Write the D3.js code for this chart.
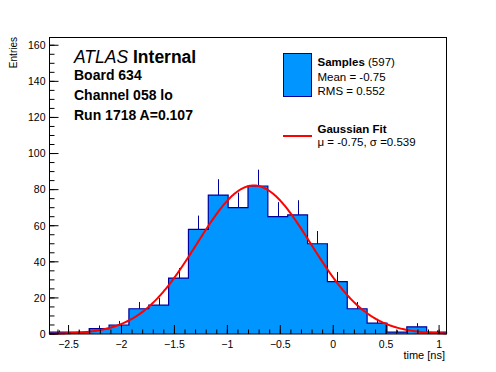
<!DOCTYPE html>
<html><head><meta charset="utf-8">
<script src="https://cdn.jsdelivr.net/npm/d3@7"></script>
<style>
html,body{margin:0;padding:0;background:#fff;}
svg{display:block;font-family:"Liberation Sans",Arial,Helvetica,sans-serif;}
</style></head>
<body>
<svg id="c" width="496" height="372"></svg>
<script>
// ---- data ----
const binRange = [-2.68, 1.07];           // histogram x range, 20 equal bins
const counts = [1, 1, 3, 5, 14, 16, 31, 58, 77, 70, 82, 65, 66, 50, 29, 14, 6, 1, 4, 1];
const xTicks = [-2.5, -2, -1.5, -1, -0.5, 0, 0.5, 1];
const yTicks = [0, 20, 40, 60, 80, 100, 120, 140, 160];
const yMax = 164.3;
const fitMu = -0.75, fitSigma = 0.539, fitConst = 82.3;
const headerLines = ["Board 634", "Channel 058 lo", "Run 1718 A=0.107"];
const legendSamples = {title: "Samples", n: "(597)", lines: ["Mean = -0.75", "RMS = 0.552"]};
const legendFit = {title: "Gaussian Fit", line: "\u03bc = -0.75, \u03c3 =0.539"};

// ---- layout ----
const svg = d3.select("#c");
const L = 49.5, R = 446.5, T = 37.5, B = 334;
const x = d3.scaleLinear().domain(binRange).range([L, R]);
const y = d3.scaleLinear().domain([0, yMax]).range([B, T]);
const nb = counts.length;
const bw = (binRange[1] - binRange[0]) / nb;
const bins = counts.map((c, i) => ({x0: binRange[0] + i * bw, x1: binRange[0] + (i + 1) * bw, c}));

const fillCol = "#0095ff", lineCol = "#00009a";

// fill
const pts = [];
pts.push([bins[0].x0, 0]);
bins.forEach(b => { pts.push([b.x0, b.c]); pts.push([b.x1, b.c]); });
pts.push([bins[nb - 1].x1, 0]);
const line = d3.line().x(d => x(d[0])).y(d => y(d[1]));
svg.append("path").attr("d", line(pts) + "Z").attr("fill", fillCol).attr("stroke", "none");

// error bars (upper part visible)
svg.append("g").selectAll("line").data(bins.filter(b => b.c > 0)).join("line")
  .attr("x1", b => Math.round(x((b.x0 + b.x1) / 2)) + 0.5)
  .attr("x2", b => Math.round(x((b.x0 + b.x1) / 2)) + 0.5)
  .attr("y1", b => y(b.c)).attr("y2", b => y(b.c + Math.sqrt(b.c)))
  .attr("stroke", lineCol).attr("stroke-width", 1);

// outline
svg.append("path").attr("d", line(pts)).attr("fill", "none")
  .attr("stroke", lineCol).attr("stroke-width", 1.2);

// fit curve
const fx = d3.range(0, 401).map(i => binRange[0] + (binRange[1] - binRange[0]) * i / 400);
const gauss = v => fitConst * Math.exp(-0.5 * ((v - fitMu) / fitSigma) ** 2);
svg.append("path").attr("d", d3.line().x(v => x(v)).y(v => y(gauss(v)))(fx))
  .attr("fill", "none").attr("stroke", "#ff0000").attr("stroke-width", 2);

// frame
svg.append("rect").attr("x", L).attr("y", T).attr("width", R - L).attr("height", B - T)
  .attr("fill", "none").attr("stroke", "#000").attr("stroke-width", 1);

// x axis ticks
const gx = svg.append("g");
const xMinor = d3.range(-26, 11).map(k => k / 10);
gx.selectAll("line.mn").data(xMinor).join("line")
  .attr("x1", d => x(d)).attr("x2", d => x(d)).attr("y1", B).attr("y2", B - 4.5)
  .attr("stroke", "#000");
gx.selectAll("line.mj").data(xTicks).join("line")
  .attr("x1", d => x(d)).attr("x2", d => x(d)).attr("y1", B).attr("y2", B - 9)
  .attr("stroke", "#000");
gx.selectAll("text").data(xTicks).join("text")
  .attr("x", d => x(d)).attr("y", 347.5).attr("text-anchor", "middle")
  .attr("font-size", 10.5)
  .text(d => (d < 0 ? "\u2212" : "") + Math.abs(d));
svg.append("text").attr("x", 445).attr("y", 359).attr("text-anchor", "end")
  .attr("font-size", 11).text("time [ns]");

// y axis ticks
const gy = svg.append("g");
const yMinor = d3.range(0, 33).map(k => k * 5);
gy.selectAll("line.mn").data(yMinor).join("line")
  .attr("x1", L).attr("x2", L + 5).attr("y1", d => y(d)).attr("y2", d => y(d))
  .attr("stroke", "#000");
gy.selectAll("line.mj").data(yTicks).join("line")
  .attr("x1", L).attr("x2", L + 9).attr("y1", d => y(d)).attr("y2", d => y(d))
  .attr("stroke", "#000");
gy.selectAll("text").data(yTicks).join("text")
  .attr("x", 45.5).attr("y", d => y(d)).attr("dy", "0.36em").attr("text-anchor", "end")
  .attr("font-size", 10.5).text(d => d);
svg.append("text").attr("transform", "translate(16.5,37) rotate(-90)")
  .attr("text-anchor", "end").attr("font-size", 10).text("Entries");

// header text
const h = svg.append("text").attr("x", 74).attr("y", 63).attr("font-size", 17.5);
h.append("tspan").attr("font-style", "italic").text("ATLAS");
h.append("tspan").attr("font-weight", "bold").text(" Internal");
svg.append("g").selectAll("text").data(headerLines).join("text")
  .attr("x", 74).attr("y", (d, i) => 80 + i * 19.8)
  .attr("font-size", 14).attr("font-weight", "bold").text(d => d);

// legend
svg.append("rect").attr("x", 283.5).attr("y", 53.5).attr("width", 28).attr("height", 43)
  .attr("fill", fillCol).attr("stroke", lineCol).attr("stroke-width", 1);
const lt = svg.append("text").attr("x", 317.5).attr("y", 66).attr("font-size", 11.5);
lt.append("tspan").attr("font-weight", "bold").text(legendSamples.title);
lt.append("tspan").text(" " + legendSamples.n);
svg.append("g").selectAll("text").data(legendSamples.lines).join("text")
  .attr("x", 317.5).attr("y", (d, i) => 81 + i * 13.5).attr("font-size", 11.5).text(d => d);
svg.append("line").attr("x1", 283).attr("x2", 312).attr("y1", 136).attr("y2", 136)
  .attr("stroke", "#ff0000").attr("stroke-width", 2);
svg.append("text").attr("x", 317.5).attr("y", 132.5).attr("font-size", 11.5)
  .attr("font-weight", "bold").text(legendFit.title);
svg.append("text").attr("x", 317.5).attr("y", 146).attr("font-size", 11.5).text(legendFit.line);
</script>
</body></html>
